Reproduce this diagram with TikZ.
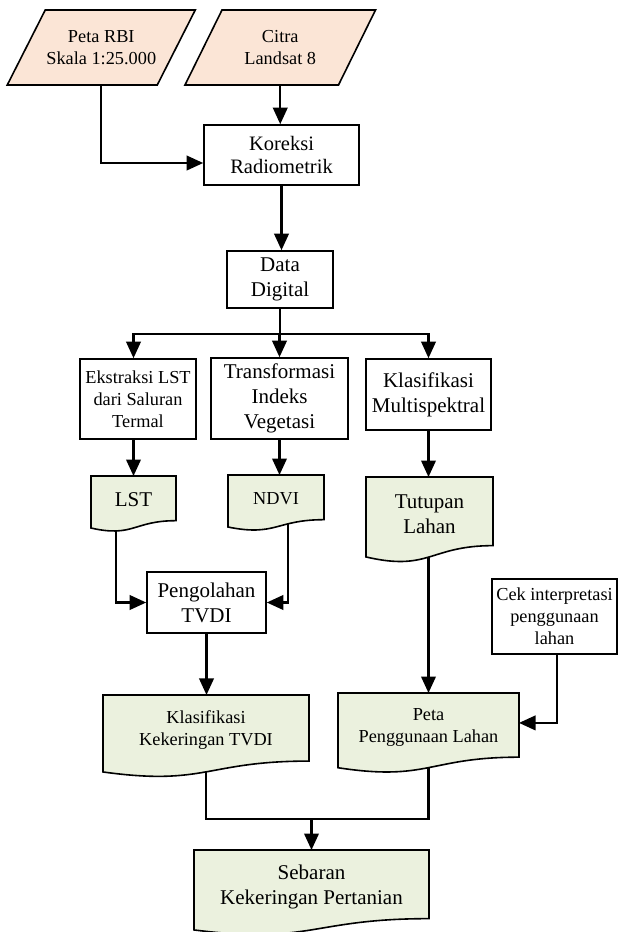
\documentclass[tikz,border=0pt]{standalone}
\usepackage{fontspec}
\setmainfont{Liberation Serif}
\usetikzlibrary{arrows.meta,calc,backgrounds}
\definecolor{peach}{HTML}{FBE5D6}
\definecolor{docgreen}{HTML}{EBF1DE}
\newcommand\smalltxt{\fontsize{18.3}{22}\selectfont}
\newcommand\bigtxt{\fontsize{21}{25}\selectfont}
\newcommand\kortxt{\fontsize{20.5}{23.5}\selectfont}
\newcommand\docshape[1]{%
  \path[docstyle] (#1.north west) -- (#1.north east)
   -- ($(#1.north east)!0.9326!(#1.south east)$)
   .. controls ($(#1.north)!0.9326!(#1.south)$) and ($(#1.north)!1.2878!(#1.south)$)
   .. ($(#1.north west)!1.086!(#1.south west)$) -- cycle;}
\newcommand\parashape[2]{%
  \path[parastyle] ($(#1.north west)+(#2,0)$) -- ($(#1.north east)+(#2,0)$)
   -- ($(#1.south east)-(#2,0)$) -- ($(#1.south west)-(#2,0)$) -- cycle;}
\tikzset{
 procbox/.style={draw, line width=1.6pt, fill=white, inner sep=0pt, align=center},
 docnode/.style={inner sep=0pt, outer sep=0pt, align=center},
 paranode/.style={inner sep=0pt, outer sep=0pt, align=center},
 docstyle/.style={draw, line width=1.6pt, fill=docgreen},
 parastyle/.style={draw, line width=1.6pt, fill=peach},
 conn/.style={line width=2.2pt},
 arr/.style={line width=2.2pt, -{Triangle[length=16.5pt,width=14.5pt]}},
}
\begin{document}
\begin{tikzpicture}[x=1pt,y=-1pt]
\useasboundingbox (0,0) rectangle (618,932);
\node[paranode, minimum width=150pt, minimum height=75pt, font=\smalltxt] (rbi) at (101.25,47.5) {Peta RBI\\Skala 1:25.000};
\node[paranode, minimum width=153.5pt, minimum height=75pt, font=\smalltxt] (citra) at (280.25,47.5) {Citra\\Landsat 8};
\node[procbox, minimum width=155pt, minimum height=60pt, font=\kortxt] (kor) at (281.5,155) {Koreksi\\Radiometrik};
\node[procbox, minimum width=106pt, minimum height=57pt, font=\bigtxt] (data) at (280,279.5) {Data\\Digital};
\node[procbox, minimum width=116pt, minimum height=80pt, font=\smalltxt] (ekst) at (138,399) {Ekstraksi LST\\dari Saluran\\Termal};
\node[procbox, minimum width=137pt, minimum height=81pt, font=\bigtxt] (trans) at (279.5,398.5) {Transformasi\\Indeks\\Vegetasi};
\node[procbox, minimum width=125pt, minimum height=71pt, font=\bigtxt] (klas) at (428.5,394.5) {Klasifikasi\\Multispektral};
\node[docnode, minimum width=85pt, minimum height=47.9pt, font=\bigtxt] (lst) at (133.5,499.95) {\raisebox{-5pt}{LST}};
\node[docnode, minimum width=96pt, minimum height=47.9pt, font=\smalltxt] (ndvi) at (276,498.95) {NDVI};
\node[docnode, minimum width=127pt, minimum height=73.6pt, font=\bigtxt] (tut) at (429.5,513.8) {Tutupan\\Lahan};
\node[procbox, minimum width=119pt, minimum height=61pt, font=\bigtxt] (peng) at (206.5,602.5) {Pengolahan\\TVDI};
\node[procbox, minimum width=125pt, minimum height=75pt, font=\smalltxt] (cek) at (554.5,616.5) {Cek interpretasi\\penggunaan\\lahan};
\node[docnode, minimum width=206pt, minimum height=70.9pt, font=\smalltxt] (kkt) at (206,730.4) {Klasifikasi\\Kekeringan TVDI};
\node[docnode, minimum width=181pt, minimum height=68.8pt, font=\smalltxt] (peta) at (428.5,727.4) {Peta\\Penggunaan Lahan};
\node[docnode, minimum width=235pt, minimum height=73.6pt, font=\bigtxt] (seb) at (311.5,886.8) {Sebaran\\Kekeringan Pertanian};
\path (seb.north) ++(0,-31) coordinate (m);
\begin{scope}[on background layer]
 \draw[arr] ([xshift=-17.5pt]lst.center) |- (peng.west);
 \draw[arr] ([xshift=12pt]ndvi.center) |- (peng.east);
 \draw[arr] (tut.center -| peta.north) -- (peta.north);
 \draw[conn] (kkt.center) |- (m) -| (peta.center);
 \docshape{lst}
 \docshape{ndvi}
 \docshape{tut}
 \docshape{kkt}
 \docshape{peta}
 \docshape{seb}
 \parashape{rbi}{19}
 \parashape{citra}{18.5}
\end{scope}
\draw[arr] (rbi.south) |- ([yshift=-8pt]kor.west);
\draw[arr] (citra.south) -- (citra.south |- kor.north);
\draw[arr] (kor.south) -- (kor.south |- data.north);
\draw[conn] (data.south) -- ++(0,25) coordinate (br);
\draw[arr] (br) -| (lst.north |- ekst.north);
\draw[arr] (br) -| (klas.north);
\draw[arr] (br -| trans.north) -- (trans.north);
\draw[arr] (lst.north |- ekst.south) -- (lst.north);
\draw[arr] (trans.south) -- (trans.south |- ndvi.north);
\draw[arr] (klas.south) -- (klas.south |- tut.north);
\draw[arr] (peng.south) -- (peng.south |- kkt.north);
\draw[arr] ([xshift=2.5pt]cek.south) |- ([yshift=4.5pt]peta.east);
\draw[arr] (m) -- (seb.north);
\end{tikzpicture}
\end{document}
